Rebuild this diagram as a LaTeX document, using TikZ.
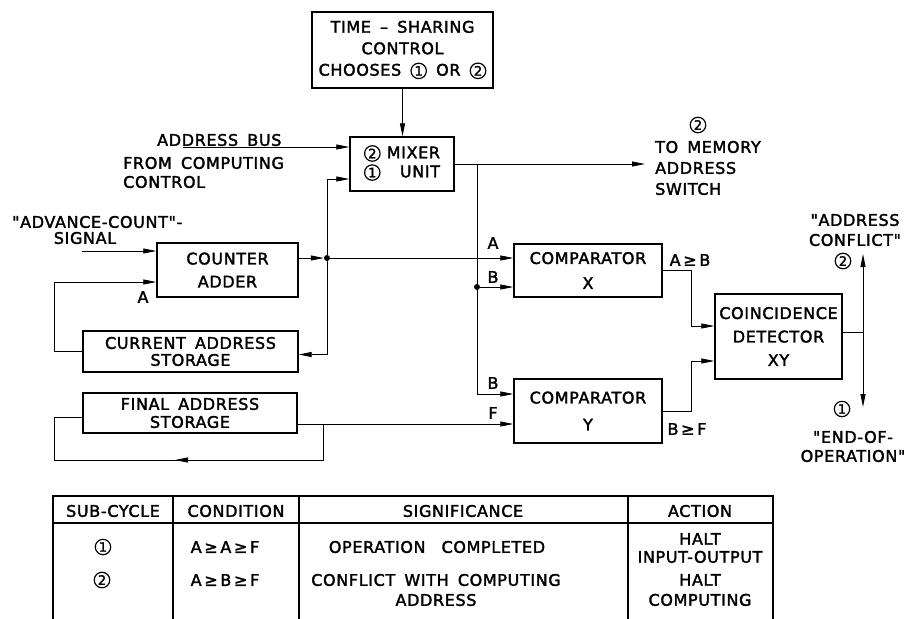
\documentclass[tikz,border=0pt]{standalone}
\usepackage{fontspec}
\setmainfont{DejaVu Sans}[Ligatures=TeXOff,LetterSpace=4,WordSpace=1.6,FakeBold=2]
\usetikzlibrary{arrows.meta,decorations.markings}
\newcommand{\cnum}[1]{\tikz[baseline=(n.base)]\node[circle,draw,line width=1.2pt,inner sep=1pt,minimum width=0pt,minimum height=0pt,anchor=center,font=\fontsize{13}{13}\selectfont](n){#1};}

\begin{document}
\begin{tikzpicture}[x=1pt,y=-1pt,
  blk/.style={draw,line width=1.4pt,inner sep=0pt,align=center,font=\fontsize{16}{19}\selectfont},
  lbl/.style={inner sep=0pt,align=center,font=\fontsize{16}{19}\selectfont},
  wire/.style={line width=0.8pt},
  arr/.style={wire,-{Triangle[length=13pt,width=5pt]}},
  dot/.style={circle,fill,inner sep=0pt,minimum size=6pt},
  tbl/.style={line width=1.2pt}]
\useasboundingbox (0,0) rectangle (922,619);
\node[blk,minimum width=181pt,minimum height=76pt,font=\fontsize{16}{21.5}\selectfont] (tsc) at (402.5,50) {TIME – SHARING\\CONTROL\\CHOOSES \cnum{1} OR \cnum{2}};
\node[blk,minimum width=104pt,minimum height=54pt] (mixer) at (402,164) {\begin{tabular}{@{}l@{\hspace{6pt}}r@{}}\cnum{2} & MIXER\\\cnum{1} & UNIT\end{tabular}};
\node[blk,minimum width=141pt,minimum height=54pt,font=\fontsize{16}{23}\selectfont] (counter) at (227.5,270) {COUNTER\\ADDER};
\node[blk,minimum width=215pt,minimum height=41pt,font=\fontsize{16}{17}\selectfont] (cur) at (190.5,351.5) {CURRENT ADDRESS\\STORAGE};
\node[blk,minimum width=214pt,minimum height=40pt,font=\fontsize{16}{18}\selectfont] (fin) at (190,413) {FINAL ADDRESS\\STORAGE};
\node[blk,minimum width=148pt,minimum height=53pt,font=\fontsize{16}{25}\selectfont] (cmpx) at (588,270.5) {COMPARATOR\\X};
\node[blk,minimum width=148pt,minimum height=64pt,font=\fontsize{16}{27}\selectfont] (cmpy) at (588,411) {COMPARATOR\\Y};
\node[blk,minimum width=127pt,minimum height=85pt,font=\fontsize{16}{23.5}\selectfont] (coin) at (778.5,336.5) {COINCIDENCE\\DETECTOR\\XY};
\node[dot] (jc) at (327,258) {};
\node[dot] (jb) at (477,287) {};
\coordinate (jm) at (477,164);
\coordinate (bus) at (183,147);
\coordinate (adv) at (82,251);
\coordinate (mem) at (645,164);
\coordinate (fo) at (298,424);
\coordinate (fb) at (323,424);
\coordinate (up) at (863,254);
\coordinate (dn) at (863,407);
\draw[arr] (tsc.south) -- (tsc.south |- mixer.north);
\draw[arr] (bus) -- (bus -| mixer.west);
\draw[arr] (jc) |- ([yshift=-15pt]mixer.west);
\draw[arr] ([yshift=12pt]counter.east) -- (jc);
\draw[arr] (jc) -- (jc -| cmpx.west);
\draw[arr] (jc) |- ([yshift=-3pt]cur.east);
\draw[arr] (cur.west) -- ++(-28,0) |- ([yshift=-12pt]counter.west);
\draw[arr] (adv) -- (adv -| counter.west);
\draw[arr] (mixer.east) -- (mem);
\draw[arr] (jm) |- ([yshift=17pt]cmpy.west);
\draw[arr] (jb) -- (jb -| cmpx.west);
\draw[arr] (fo) -- (fo -| cmpy.west);
\draw[wire,postaction={decorate},decoration={markings,mark=at position 184pt with {\arrow{Triangle[length=13pt,width=5pt]}}}]
  (fb) -- ++(0,36) -| ([xshift=-28pt,yshift=-4pt]fin.west) -- ([yshift=-4pt]fin.west);
\draw[arr] (cmpx.east) -- ++(29,0) |- ([yshift=10.5pt]coin.west);
\draw[arr] (cmpy.east) -- ++(29,0) |- ([yshift=-24.5pt]coin.west);
\draw[wire] ([yshift=4.5pt]coin.east) -- ([yshift=4.5pt]coin.east -| up);
\draw[wire,{Triangle[length=13pt,width=5pt]}-{Triangle[length=13pt,width=5pt]}] (up) -- (dn);
\node[lbl,anchor=west] (busl) at (157,140) {ADDRESS BUS};
\node[lbl,anchor=west,align=left] (busf) at (123,172.5) {FROM COMPUTING\\CONTROL};
\node[lbl,anchor=west] (advl) at (12,222) {"ADVANCE-COUNT"-};
\node[lbl] (sig) at (85,238) {SIGNAL};
\node[lbl] (la) at (143,297) {A};
\node[lbl] (memn) at (698,125) {\cnum{2}};
\node[lbl,anchor=west,align=left,font=\fontsize{16}{21}\selectfont] (meml) at (655,168) {TO MEMORY\\ADDRESS\\SWITCH};
\node[lbl] (xa) at (493,243) {A};
\node[lbl] (xb) at (493,277) {B};
\node[lbl] (yb) at (493,383) {B};
\node[lbl] (yf) at (493,413) {F};
\node[lbl] (ab) at (690,260) {A\,≥\,B};
\node[lbl] (bf) at (687,429) {B\,≥\,F};
\node[lbl,font=\fontsize{16}{20}\selectfont] (conf) at (855,230) {"ADDRESS\\CONFLICT"};
\node[lbl] (two) at (843,261) {\cnum{2}};
\node[lbl] (one) at (842,409) {\cnum{1}};
\node[lbl] (eoo) at (853,446.5) {"END-OF-\\OPERATION"};
\draw[tbl] (53,619) |- (773,496) -- (773,619);
\draw[tbl] (53,523) -- (773,523);
\draw[tbl] (173,496) -- (173,619);
\draw[tbl] (299,496) -- (299,619);
\draw[tbl] (628,496) -- (628,619);
\node[lbl] (h1) at (113,511) {SUB-CYCLE};
\node[lbl] (h2) at (236,511) {CONDITION};
\node[lbl] (h3) at (463,511) {SIGNIFICANCE};
\node[lbl] (h4) at (700,511) {ACTION};
\node[lbl] (r1a) at (103,547) {\cnum{1}};
\node[lbl] (r1b) at (225,547) {A\,≥\,A\,≥\,F};
\node[lbl] (r1c) at (437,547) {OPERATION\quad COMPLETED};
\node[lbl,font=\fontsize{16}{18}\selectfont] (r1d) at (700,548) {HALT\\INPUT-OUTPUT};
\node[lbl] (r2a) at (102,580) {\cnum{2}};
\node[lbl] (r2b) at (225,580) {A\,≥\,B\,≥\,F};
\node[lbl,font=\fontsize{16}{20}\selectfont] (r2c) at (436,590) {CONFLICT WITH COMPUTING\\ADDRESS};
\node[lbl,font=\fontsize{16}{20}\selectfont] (r2d) at (700,590) {HALT\\COMPUTING};
\end{tikzpicture}
\end{document}
